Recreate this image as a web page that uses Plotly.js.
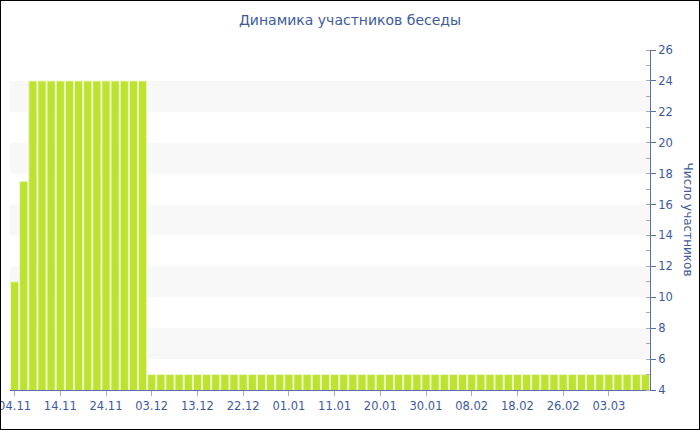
<!DOCTYPE html>
<html>
<head>
<meta charset="utf-8">
<script src="https://cdn.plot.ly/plotly-3.0.1.min.js"></script>
<style>
html,body{margin:0;padding:0;background:#fff;}
#chart{width:700px;height:430px;box-sizing:border-box;border:1px solid #000;overflow:hidden;}
</style>
</head>
<body>
<div id="chart"></div>
<script>
const titleText = "Динамика участников беседы";
const yTitle = "Число участников";
const dates = [
 "04.11","06.11","08.11","10.11","12.11","14.11","16.11","18.11","20.11","22.11",
 "24.11","26.11","28.11","30.11","01.12","03.12","05.12","07.12","09.12","11.12",
 "13.12","15.12","17.12","19.12","20.12","22.12","24.12","26.12","28.12","30.12",
 "01.01","03.01","05.01","07.01","09.01","11.01","13.01","15.01","17.01","18.01",
 "20.01","22.01","24.01","26.01","28.01","30.01","01.02","03.02","05.02","06.02",
 "08.02","10.02","12.02","14.02","16.02","18.02","20.02","22.02","24.02","25.02",
 "26.02","27.02","28.02","01.03","02.03","03.03","05.03","07.03","09.03","11.03"
];
const members = [
 11,17.5,24,24,24,24,24,24,24,24,
 24,24,24,24,24,5,5,5,5,5,
 5,5,5,5,5,5,5,5,5,5,
 5,5,5,5,5,5,5,5,5,5,
 5,5,5,5,5,5,5,5,5,5,
 5,5,5,5,5,5,5,5,5,5,
 5,5,5,5,5,5,5,5,5,5
];
const tickLabels = ["04.11","14.11","24.11","03.12","13.12","22.12","01.01","11.01","20.01","30.01","08.02","18.02","26.02","03.03"];
const yRange = [4,26];
const bandPairs = [[6,8],[10,12],[14,16],[18,20],[22,24]];

const blue = "#3e5a9e";
const axisBlue = "#5a6fae";
const font = "DejaVu Sans, Verdana, sans-serif";

const shapes = bandPairs.map(b => ({
  type:"rect", xref:"paper", yref:"y", x0:0, x1:1, y0:b[0], y1:b[1],
  fillcolor:"#f8f8f8", line:{width:0}, layer:"below"
}));

const data = [{
  type:"bar", x:dates, y:members,
  marker:{color:"#bde232", line:{color:"#eef8c8", width:1}},
  hoverinfo:"x+y"
}];

const layout = {
  width:698, height:428,
  margin:{l:9, r:49, t:49, b:39},
  paper_bgcolor:"#fff", plot_bgcolor:"#fff",
  bargap:0.1,
  showlegend:false,
  title:{text:titleText, x:0.5, xanchor:"center", y:0.955, yanchor:"middle",
    font:{family:font, size:14, color:blue}},
  xaxis:{type:"category", tickmode:"array", tickvals:tickLabels, ticktext:tickLabels,
    showgrid:false, zeroline:false, showline:true, linecolor:axisBlue, linewidth:1,
    ticks:"outside", ticklen:5, tickcolor:"#aaaaaa", tickangle:0,
    tickfont:{family:font, size:11.5, color:blue}, automargin:false},
  yaxis:{side:"right", range:yRange, dtick:2, tick0:0, showgrid:false, zeroline:false,
    showline:true, linecolor:axisBlue, linewidth:1,
    ticks:"outside", ticklen:5, tickcolor:axisBlue,
    minor:{dtick:1, ticks:"inside", ticklen:4, tickcolor:"#aaaaaa", showgrid:false},
    tickfont:{family:font, size:11.5, color:blue}, automargin:false},
  shapes:shapes,
  annotations:[{text:yTitle, xref:"paper", yref:"paper", x:1.06, y:0.5,
    xanchor:"center", yanchor:"middle", textangle:90, showarrow:false,
    font:{family:font, size:12, color:blue}}]
};

Plotly.newPlot("chart", data, layout, {displayModeBar:false, staticPlot:true});
</script>
</body>
</html>
